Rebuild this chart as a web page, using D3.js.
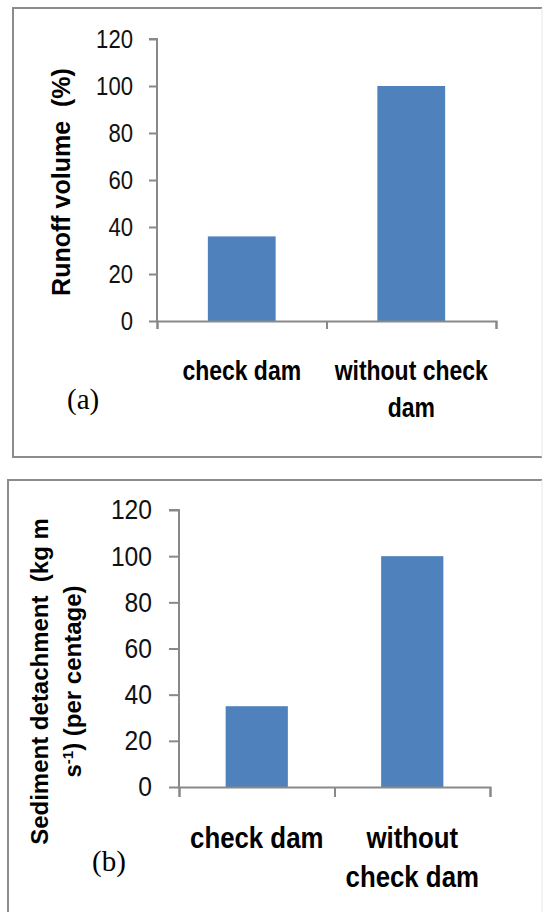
<!DOCTYPE html>
<html>
<head>
<meta charset="utf-8">
<script src="https://cdn.jsdelivr.net/npm/d3@7"></script>
<style>
  body { margin: 0; background: #fff; }
  svg { display: block; }
</style>
</head>
<body>
<svg id="chart" width="543" height="912"></svg>
<script>
// Two bar panels: runoff volume (a) and sediment detachment (b)

const categories = ["check dam", "without check dam"];
const yTicks = [0, 20, 40, 60, 80, 100, 120];

const runoffValues = [36, 100];
const runoffLabels = [["check dam"], ["without check", "dam"]];

const sedimentValues = [35, 100];
const sedimentLabels = [["check dam"], ["without", "check dam"]];

const svg = d3.select("#chart");
const axisColor = "#898989";
const barColor = "#4f81bd";
const sans = "'Liberation Sans', Arial, sans-serif";

// no narrow font installed, so squeeze text along its own direction
function condense(sel, k) {
  sel.each(function() {
    const w = this.getComputedTextLength();
    d3.select(this)
      .attr("textLength", w * k)
      .attr("lengthAdjust", "spacingAndGlyphs");
  });
}

function panelFrame(x0, y0, x1, y1) {
  const g = svg.append("g");
  g.append("path")
    .attr("d", `M${x1},${y0}H${x0}V${y1}H${x1}`)
    .attr("fill", "none")
    .attr("stroke", "#8c8c8c")
    .attr("stroke-width", 2);
  g.append("line")
    .attr("x1", x1).attr("x2", x1)
    .attr("y1", y0).attr("y2", y1)
    .attr("stroke", "#e6e6e6");
}

function drawPanel(p) {
  const g = svg.append("g");

  const x = d3.scaleBand()
    .domain(categories)
    .range([p.left, p.right])
    .paddingInner(0.6)
    .paddingOuter(0.3);

  const y = d3.scaleLinear()
    .domain([0, 120])
    .range([p.bottom, p.top]);

  // category boundaries on the x axis
  const xb = d3.scaleLinear()
    .domain([0, categories.length])
    .range([p.left, p.right]);

  // bars
  g.selectAll("rect")
    .data(p.values)
    .join("rect")
    .attr("x", (d, i) => x(categories[i]))
    .attr("y", d => y(d))
    .attr("width", x.bandwidth())
    .attr("height", d => y(0) - y(d))
    .attr("fill", barColor);

  // y axis
  const yAxis = g.append("g")
    .attr("transform", `translate(${p.left},0)`)
    .call(d3.axisLeft(y).tickValues(yTicks).tickSize(p.tickSize).tickPadding(p.tickPad));
  yAxis.select(".domain").attr("stroke", axisColor).attr("stroke-width", 2)
    .attr("d", `M0,${p.bottom}V${p.top}H${-p.tickSize}`);
  yAxis.selectAll(".tick line").attr("stroke", axisColor).attr("stroke-width", 2);
  yAxis.selectAll(".tick text")
    .style("font-family", sans)
    .style("font-size", p.tickFont + "px")
    .style("fill", "#111")
    .call(condense, p.tickSqueeze);

  // x axis
  const xAxis = g.append("g")
    .attr("transform", `translate(0,${p.bottom})`)
    .call(d3.axisBottom(xb).tickValues(d3.range(categories.length + 1)).tickFormat("").tickSizeOuter(0).tickSize(p.tickSize));
  xAxis.select(".domain").attr("stroke", axisColor).attr("stroke-width", 2);
  xAxis.selectAll(".tick line").attr("stroke", axisColor).attr("stroke-width", 2);

  // category labels
  p.labels.forEach((lines, i) => {
    const cx = x(categories[i]) + x.bandwidth() / 2;
    lines.forEach((line, j) => {
      g.append("text")
        .attr("x", cx)
        .attr("y", p.labelY + j * p.labelGap)
        .attr("text-anchor", "middle")
        .style("font-family", sans)
        .style("font-weight", "bold")
        .style("font-size", p.labelFont + "px")
        .style("fill", "#000")
        .text(line)
        .call(condense, p.labelSqueeze);
    });
  });

  // y axis title
  const mid = (p.top + p.bottom) / 2 + p.titleShift;
  p.title.forEach((line, j) => {
    const t = g.append("text")
      .attr("transform", `translate(${p.titleX + j * p.titleGap},${mid}) rotate(-90)`)
      .attr("text-anchor", "middle")
      .style("font-family", sans)
      .style("font-weight", "bold")
      .style("font-size", p.titleFont + "px")
      .style("white-space", "pre")
      .style("fill", "#000");
    line.forEach(part => {
      const s = t.append("tspan").text(part.t);
      if (part.sup) s.attr("baseline-shift", "super").style("font-size", "15px");
    });
  });

  // panel tag
  g.append("text")
    .attr("x", p.tagX)
    .attr("y", p.tagY)
    .style("font-family", "'Liberation Serif', 'Times New Roman', serif")
    .style("font-size", "29px")
    .style("fill", "#000")
    .text(p.tag);
}

panelFrame(13, 8, 542, 457);
panelFrame(8, 480, 542, 930);

drawPanel({
  values: runoffValues, labels: runoffLabels,
  left: 157, right: 496, top: 39, bottom: 321,
  tickSize: 8, tickPad: 16, tickFont: 26, tickSqueeze: 0.85,
  labelY: 380, labelGap: 37, labelFont: 28, labelSqueeze: 0.82,
  title: [[{ t: "Runoff volume  (%)" }]],
  titleX: 70, titleGap: 0, titleShift: 2, titleFont: 25,
  tag: "(a)", tagX: 67, tagY: 409
});

drawPanel({
  values: sedimentValues, labels: sedimentLabels,
  left: 179, right: 490, top: 510, bottom: 787,
  tickSize: 10, tickPad: 17, tickFont: 28, tickSqueeze: 0.88,
  labelY: 848, labelGap: 39, labelFont: 30, labelSqueeze: 0.86,
  title: [
    [{ t: "Sediment detachment  (kg m" }],
    [{ t: "s" }, { t: "-1", sup: true }, { t: ") (per centage)" }]
  ],
  titleX: 48, titleGap: 33, titleShift: 33, titleFont: 24,
  tag: "(b)", tagX: 92, tagY: 871
});
</script>
</body>
</html>
